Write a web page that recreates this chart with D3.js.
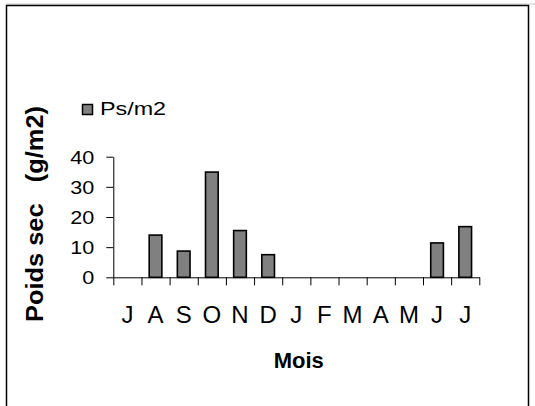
<!DOCTYPE html>
<html>
<head>
<meta charset="utf-8">
<script src="https://cdn.jsdelivr.net/npm/d3@7"></script>
<style>
  html, body { margin: 0; padding: 0; background: #fff; }
  svg { display: block; }
  text { font-family: "Liberation Sans", Arial, sans-serif; fill: #000; }
</style>
</head>
<body>
<svg id="chart" width="535" height="406"></svg>
<script>
const months = ["J", "A", "S", "O", "N", "D", "J", "F", "M", "A", "M", "J", "J"];
const values = [null, 14.0, 8.7, 34.9, 15.5, 7.5, null, null, null, null, null, 11.4, 16.8];
const yTicks = [0, 10, 20, 30, 40];
const seriesName = "Ps/m2";
const xTitle = "Mois";
const yTitle = "Poids sec   (g/m2)";

(function () {
const svg = d3.select("#chart");

// frame
svg.append("line").attr("x1", 6).attr("x2", 535).attr("y1", 4).attr("y2", 4)
  .attr("stroke", "#c8c8c8").attr("stroke-width", 1);
svg.append("path").attr("d", "M6.5,406 V5.5 H528.5 V406")
  .attr("fill", "none").attr("stroke", "#000").attr("stroke-width", 1.5);

const pLeft = 113.3, pRight = 479.3, pTop = 156.7, pBottom = 277.3;
const idx = months.map((m, i) => i);
const x = d3.scaleBand().domain(idx).range([pLeft, pRight]).paddingInner(0.55).paddingOuter(0.275);
const xb = d3.scaleLinear().domain([0, months.length]).range([pLeft, pRight]);
const y = d3.scaleLinear().domain([0, 40]).range([pBottom, pTop]);

// bars
svg.append("g").selectAll("rect")
  .data(values.map((v, i) => ({ v, i })).filter(d => d.v != null))
  .join("rect")
  .attr("x", d => x(d.i))
  .attr("width", x.bandwidth())
  .attr("y", d => y(d.v))
  .attr("height", d => y(0) - y(d.v))
  .attr("fill", "#808080")
  .attr("stroke", "#000")
  .attr("stroke-width", 1.6);

// x axis with ticks at category boundaries
const gx = svg.append("g").attr("transform", `translate(0,${pBottom})`)
  .call(d3.axisBottom(xb).tickValues(d3.range(months.length + 1)).tickFormat("").tickSize(8).tickSizeOuter(0));
gx.selectAll("path, line").attr("stroke", "#000").attr("stroke-width", 1);

// x labels at band centers
svg.append("g").selectAll("text")
  .data(months)
  .join("text")
  .attr("x", (d, i) => x(i) + x.bandwidth() / 2)
  .attr("y", 323)
  .attr("text-anchor", "middle")
  .style("font-size", "24px")
  .text(d => d);

// y axis
const gy = svg.append("g").attr("transform", `translate(${pLeft},0)`)
  .call(d3.axisLeft(y).tickValues(yTicks).tickSize(7).tickSizeOuter(0).tickPadding(12));
gy.selectAll("path, line").attr("stroke", "#000").attr("stroke-width", 1);
gy.selectAll("text")
  .style("font-family", '"Liberation Sans", Arial, sans-serif')
  .style("font-size", "18px")
  .attr("dy", "0.36em")
  .each(function () {
    const w = this.getComputedTextLength();
    d3.select(this).attr("textLength", w * 1.2).attr("lengthAdjust", "spacingAndGlyphs");
  });

// legend
svg.append("rect").attr("x", 82.5).attr("y", 104.5).attr("width", 10).attr("height", 10)
  .attr("fill", "#808080").attr("stroke", "#000").attr("stroke-width", 1.5);
svg.append("text").attr("x", 100).attr("y", 115).style("font-size", "18px")
  .attr("textLength", 66).attr("lengthAdjust", "spacingAndGlyphs")
  .text(seriesName);

// axis titles
svg.append("text").attr("x", 298.7).attr("y", 368.3).attr("text-anchor", "middle")
  .style("font-size", "22px").style("font-weight", "bold").text(xTitle);

svg.append("text")
  .attr("transform", "translate(43.3,214) rotate(-90)")
  .attr("text-anchor", "middle")
  .style("white-space", "pre")
  .style("font-size", "23px").style("font-weight", "bold")
  .attr("textLength", 216).attr("lengthAdjust", "spacingAndGlyphs")
  .text(yTitle);
})();
</script>
</body>
</html>
